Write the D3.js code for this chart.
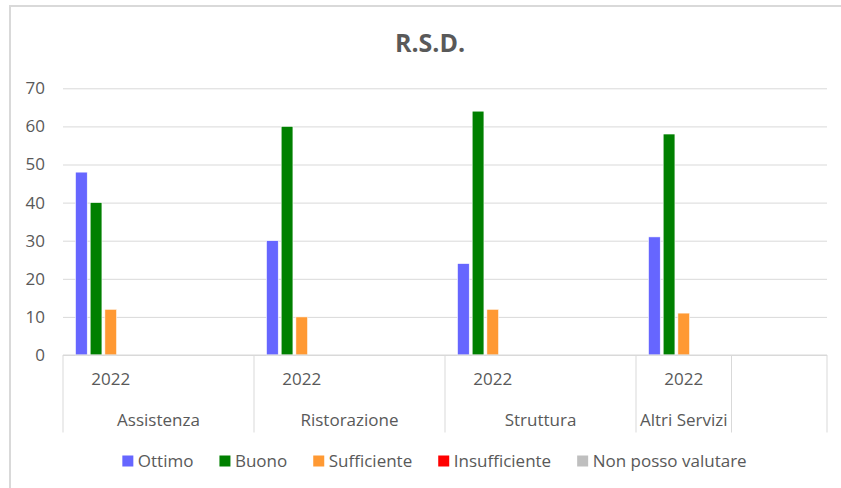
<!DOCTYPE html>
<html>
<head>
<meta charset="utf-8">
<script src="https://cdn.jsdelivr.net/npm/d3@7"></script>
<style>
  html, body { margin: 0; padding: 0; background: #fff; }
  svg { display: block; font-family: "Open Sans", "DejaVu Sans", sans-serif; }
</style>
</head>
<body>
<svg id="chart" width="841" height="488"></svg>
<script>
// ---- data ----
const title = "R.S.D.";
const seriesNames = ["Ottimo", "Buono", "Sufficiente", "Insufficiente", "Non posso valutare"];
const seriesColors = ["#6666FF", "#008000", "#FF9933", "#FF0000", "#BFBFBF"];
const groups = ["Assistenza", "Ristorazione", "Struttura", "Altri Servizi", ""];
const slotYears = ["2022", "", "2022", "", "2022", "", "2022", ""];
const slotGroup = [0, 0, 1, 1, 2, 2, 3, 4];
const ottimo = [48, 30, 24, 31];
const buono = [40, 60, 64, 58];
const sufficiente = [12, 10, 12, 11];
const insufficiente = [0, 0, 0, 0];
const nonPosso = [0, 0, 0, 0];
const yTicks = [0, 10, 20, 30, 40, 50, 60, 70];

const seriesValues = [ottimo, buono, sufficiente, insufficiente, nonPosso];

// ---- layout ----
const svg = d3.select("#chart");
const plotLeft = 63, plotRight = 827, plotTop = 88.3, plotBottom = 355;
const textColor = "#595959";
const gridColor = "#d9d9d9";

// outer border
svg.append("rect")
  .attr("x", 10).attr("y", 6).attr("width", 860).attr("height", 500)
  .attr("fill", "none").attr("stroke", "#d9d9d9").attr("stroke-width", 2);

// title
svg.append("text")
  .attr("x", 430).attr("y", 51.5)
  .attr("text-anchor", "middle")
  .attr("font-size", 25).attr("font-weight", "bold")
  .attr("fill", textColor)
  .text(title);

const y = d3.scaleLinear().domain([0, 70]).range([plotBottom, plotTop]);
const x0 = d3.scaleBand().domain(d3.range(slotYears.length)).range([plotLeft, plotRight]).padding(0);
const x1 = d3.scaleBand().domain(seriesNames).range([0, x0.bandwidth()]).paddingInner(0.2).paddingOuter(0.85);

// gridlines
const grid = svg.append("g")
  .attr("transform", `translate(${plotLeft},0)`)
  .call(d3.axisLeft(y).tickValues(yTicks).tickSize(-(plotRight - plotLeft)).tickFormat(""));
grid.select(".domain").remove();
grid.selectAll("line").attr("stroke", gridColor).attr("stroke-width", 1);

// y labels
const yAxis = svg.append("g")
  .attr("transform", `translate(${plotLeft},0)`)
  .call(d3.axisLeft(y).tickValues(yTicks).tickSize(0).tickPadding(18));
yAxis.select(".domain").remove();
yAxis.selectAll("text").attr("font-size", 17).attr("fill", textColor)
  .attr("font-family", "'Open Sans', sans-serif");

// bars
const dataSlots = [];
slotYears.forEach((yr, i) => { if (yr !== "") dataSlots.push(i); });
const barG = svg.append("g");
dataSlots.forEach((slot, k) => {
  const g = barG.append("g").attr("transform", `translate(${x0(slot)},0)`);
  g.selectAll("rect")
    .data(seriesNames.map((s, si) => ({ s, si, v: seriesValues[si][k] })).filter(d => d.v > 0))
    .join("rect")
    .attr("x", d => x1(d.s))
    .attr("width", x1.bandwidth())
    .attr("y", d => y(d.v))
    .attr("height", d => y(0) - y(d.v))
    .attr("fill", d => seriesColors[d.si])
    .attr("stroke", "#ffffff").attr("stroke-width", 0.6);
});

// x axis line
svg.append("line")
  .attr("x1", plotLeft).attr("x2", plotRight).attr("y1", plotBottom).attr("y2", plotBottom)
  .attr("stroke", gridColor).attr("stroke-width", 1);

// year labels via axis
const xAxis = svg.append("g")
  .attr("transform", `translate(0,${plotBottom})`)
  .call(d3.axisBottom(x0).tickSize(0).tickPadding(18).tickFormat(i => slotYears[i]));
xAxis.select(".domain").remove();
xAxis.selectAll("text").attr("font-size", 17).attr("fill", textColor)
  .attr("font-family", "'Open Sans', sans-serif");

// group separators and labels
const spans = [];
let start = 0;
for (let i = 1; i <= slotGroup.length; i++) {
  if (i === slotGroup.length || slotGroup[i] !== slotGroup[i - 1]) {
    spans.push({ g: slotGroup[start], a: start, b: i - 1 });
    start = i;
  }
}
const sepX = [plotLeft];
spans.forEach(sp => sepX.push(x0(sp.b) + x0.bandwidth()));
svg.append("g").selectAll("line").data(sepX).join("line")
  .attr("x1", d => d).attr("x2", d => d)
  .attr("y1", plotBottom).attr("y2", 432.5)
  .attr("stroke", gridColor).attr("stroke-width", 1);
svg.append("g").selectAll("text").data(spans).join("text")
  .attr("x", d => (x0(d.a) + x0(d.b) + x0.bandwidth()) / 2)
  .attr("y", 425.5)
  .attr("text-anchor", "middle")
  .attr("font-size", 17).attr("fill", textColor)
  .text(d => groups[d.g]);

// legend
const legend = svg.append("g");
const items = legend.selectAll("g").data(seriesNames).join("g");
items.append("rect").attr("width", 11).attr("height", 11).attr("y", -5.5)
  .attr("fill", (d, i) => seriesColors[i]);
items.append("text").attr("x", 15.5).attr("y", 6)
  .attr("font-size", 17).attr("fill", textColor).text(d => d);
let cx = 0;
items.each(function () {
  const w = d3.select(this).select("text").node().getComputedTextLength();
  d3.select(this).attr("transform", `translate(${cx},0)`);
  cx += 15.5 + w + 26;
});
const totalW = cx - 26;
legend.attr("transform", `translate(${434.5 - totalW / 2},461)`);
</script>
</body>
</html>
